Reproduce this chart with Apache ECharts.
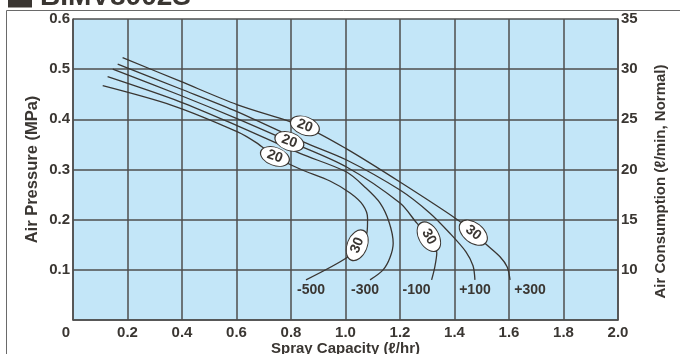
<!DOCTYPE html>
<html><head><meta charset="utf-8">
<script src="https://cdn.jsdelivr.net/npm/echarts@6/dist/echarts.min.js"></script>
<style>html,body{margin:0;padding:0;background:#fff}#c{width:680px;height:354px}</style>
</head><body><div id="c"></div>
<script>
// ---- data ----
const curveNames = ['-500', '-300', '-100', '+100', '+300'];
const xM500 = [0.109, 0.368, 0.604, 0.674, 0.741, 0.833, 0.943, 1.017, 1.064, 1.081, 1.079, 1.043, 1.010, 0.855];
const yM500 = [0.467, 0.427, 0.375, 0.353, 0.326, 0.301, 0.277, 0.253, 0.229, 0.203, 0.175, 0.149, 0.126, 0.080];
const xM300 = [0.127, 0.393, 0.604, 0.833, 1.004, 1.075, 1.127, 1.160, 1.175, 1.163, 1.138, 1.090];
const yM300 = [0.485, 0.435, 0.387, 0.332, 0.295, 0.263, 0.233, 0.195, 0.153, 0.124, 0.100, 0.080];
const xM100 = [0.146, 0.393, 0.604, 0.794, 1.004, 1.200, 1.262, 1.306, 1.335, 1.327, 1.316];
const yM100 = [0.500, 0.448, 0.401, 0.356, 0.305, 0.233, 0.193, 0.166, 0.134, 0.104, 0.080];
const xP100 = [0.164, 0.393, 0.604, 0.845, 1.004, 1.200, 1.310, 1.383, 1.442, 1.468, 1.475];
const yP100 = [0.510, 0.461, 0.415, 0.355, 0.319, 0.259, 0.213, 0.173, 0.136, 0.108, 0.080];
const xP300 = [0.182, 0.393, 0.604, 0.851, 1.004, 1.200, 1.408, 1.469, 1.518, 1.567, 1.593, 1.604];
const yP300 = [0.523, 0.476, 0.429, 0.385, 0.341, 0.275, 0.201, 0.174, 0.150, 0.126, 0.106, 0.080];
// air-consumption markers on curves -500, -100, +300
const mark20X = [0.741, 0.794, 0.851];
const mark20Y = [0.326, 0.356, 0.387];
const mark30X = [1.043, 1.306, 1.469];
const mark30Y = [0.149, 0.166, 0.174];
const markValues = ['20', '30'];
const xTickLabels = ['0', '0.2', '0.4', '0.6', '0.8', '1.0', '1.2', '1.4', '1.6', '1.8', '2.0'];
const yTickLabels = ['', '0.1', '0.2', '0.3', '0.4', '0.5', '0.6'];
const y2TickLabels = ['', '10', '15', '20', '25', '30', '35'];

// ---- chart ----
const ink = '#3a3632';
const font = 'Liberation Sans, Arial, sans-serif';
const ellipse = 'path://M0,50A50,50,0,1,1,100,50A50,50,0,1,1,0,50Z';
const chart = echarts.init(document.getElementById('c'), null, {renderer: 'canvas'});

function zip(xs, ys) { return xs.map((x, i) => [x, ys[i]]); }
function mp(x, y, val, rot, size) {
  return {coord: [x, y], value: val, symbol: ellipse, symbolSize: size, symbolRotate: rot,
    itemStyle: {color: '#fff', borderColor: ink, borderWidth: 1},
    label: {show: true, position: 'inside', formatter: val, rotate: rot, color: ink, fontSize: 14, fontWeight: 'bold', fontFamily: font}};
}
function endMark(x, y, name, off) {
  return {coord: [x, y], value: name, symbol: 'circle', symbolSize: 1,
    itemStyle: {color: 'rgba(0,0,0,0)'},
    label: {show: true, position: 'bottom', distance: 3, offset: off, formatter: name,
      color: ink, fontSize: 14, fontWeight: 'bold', fontFamily: font}};
}
const endOffsets = [[5, 0], [-5, 0], [-15, 0], [0, 0], [20, 0]];
const curves = [[xM500, yM500], [xM300, yM300], [xM100, yM100], [xP100, yP100], [xP300, yP300]];
const marks = {
  0: [mp(mark20X[0], mark20Y[0], markValues[0], -20, [30, 18]), mp(mark30X[0], mark30Y[0], markValues[1], 68, [32, 20])],
  2: [mp(mark20X[1], mark20Y[1], markValues[0], -20, [30, 18]), mp(mark30X[1], mark30Y[1], markValues[1], -60, [32, 20])],
  4: [mp(mark20X[2], mark20Y[2], markValues[0], -20, [30, 18]), mp(mark30X[2], mark30Y[2], markValues[1], -38, [32, 20])]
};
const series = curves.map((c, i) => {
  const xs = c[0], ys = c[1], n = xs.length - 1;
  const md = (marks[i] || []).concat([endMark(xs[n], ys[n], curveNames[i], endOffsets[i])]);
  return {
    type: 'line', name: curveNames[i], data: zip(xs, ys), smooth: 0.3, showSymbol: false, symbol: 'none',
    lineStyle: {color: ink, width: 1.3}, silent: true, z: 3,
    markPoint: {data: md, z: 5, animation: false, silent: true}
  };
});

const axisLbl = {color: ink, fontSize: 15, fontWeight: 'bold', fontFamily: font};
const gridLine = {show: true, lineStyle: {color: '#4e4e4e', width: 1.5}};
chart.setOption({
  animation: false,
  grid: {left: 73, right: 62, top: 19, bottom: 34, show: true, backgroundColor: '#c3e6f8', borderWidth: 0,
    outerBoundsMode: 'none', containLabel: false},
  graphic: [
    {type: 'rect', shape: {x: 6.5, y: 10.5, width: 700, height: 400}, style: {fill: 'none', stroke: '#6a6a6a', lineWidth: 1}, z: -1},
    {type: 'rect', shape: {x: 8, y: -20, width: 24, height: 27.5}, style: {fill: ink}},
    {type: 'text', x: 40, y: 11.5, style: {text: 'BIMV8002S', fill: ink, font: 'bold 28px ' + font, textVerticalAlign: 'bottom'}}
  ],
  xAxis: {
    type: 'value', min: 0, max: 2, interval: 0.2,
    name: 'Spray Capacity (ℓ/hr)', nameLocation: 'middle', nameGap: 21, nameMoveOverlap: false,
    nameTextStyle: {color: ink, fontSize: 15, fontWeight: 'bold', fontFamily: font},
    axisLine: {show: true, lineStyle: {color: '#4e4e4e', width: 1.5}},
    axisTick: {show: false},
    axisLabel: Object.assign({margin: 5, formatter: (v, i) => i === 0 ? '{z|' + xTickLabels[0] + '}' : xTickLabels[i],
      rich: {z: {padding: [0, 14, 0, 0], color: ink, fontSize: 15, fontWeight: 'bold', fontFamily: font}}}, axisLbl),
    splitLine: gridLine
  },
  yAxis: [{
    type: 'value', min: 0, max: 0.6, interval: 0.1,
    name: 'Air Pressure (MPa)', nameLocation: 'middle', nameGap: 32, nameRotate: 90, nameMoveOverlap: false,
    nameTextStyle: {color: ink, fontSize: 16.5, fontWeight: 'bold', fontFamily: font},
    axisLine: {show: true, lineStyle: {color: '#4e4e4e', width: 1.5}},
    axisTick: {show: false},
    axisLabel: Object.assign({margin: 3, formatter: (v, i) => yTickLabels[i]}, axisLbl),
    splitLine: gridLine
  }, {
    type: 'value', min: 5, max: 35, interval: 5, position: 'right',
    name: 'Air Consumption (ℓ/min, Normal)', nameLocation: 'middle', nameGap: 35, nameRotate: 90, nameMoveOverlap: false,
    nameTextStyle: {color: ink, fontSize: 15, fontWeight: 'bold', fontFamily: font, padding: [0, 24, 0, 0]},
    axisLine: {show: true, lineStyle: {color: '#4e4e4e', width: 1.5}},
    axisTick: {show: false},
    axisLabel: Object.assign({margin: 3, formatter: (v, i) => y2TickLabels[i]}, axisLbl),
    splitLine: {show: false}
  }],
  series: series
});
</script></body></html>
